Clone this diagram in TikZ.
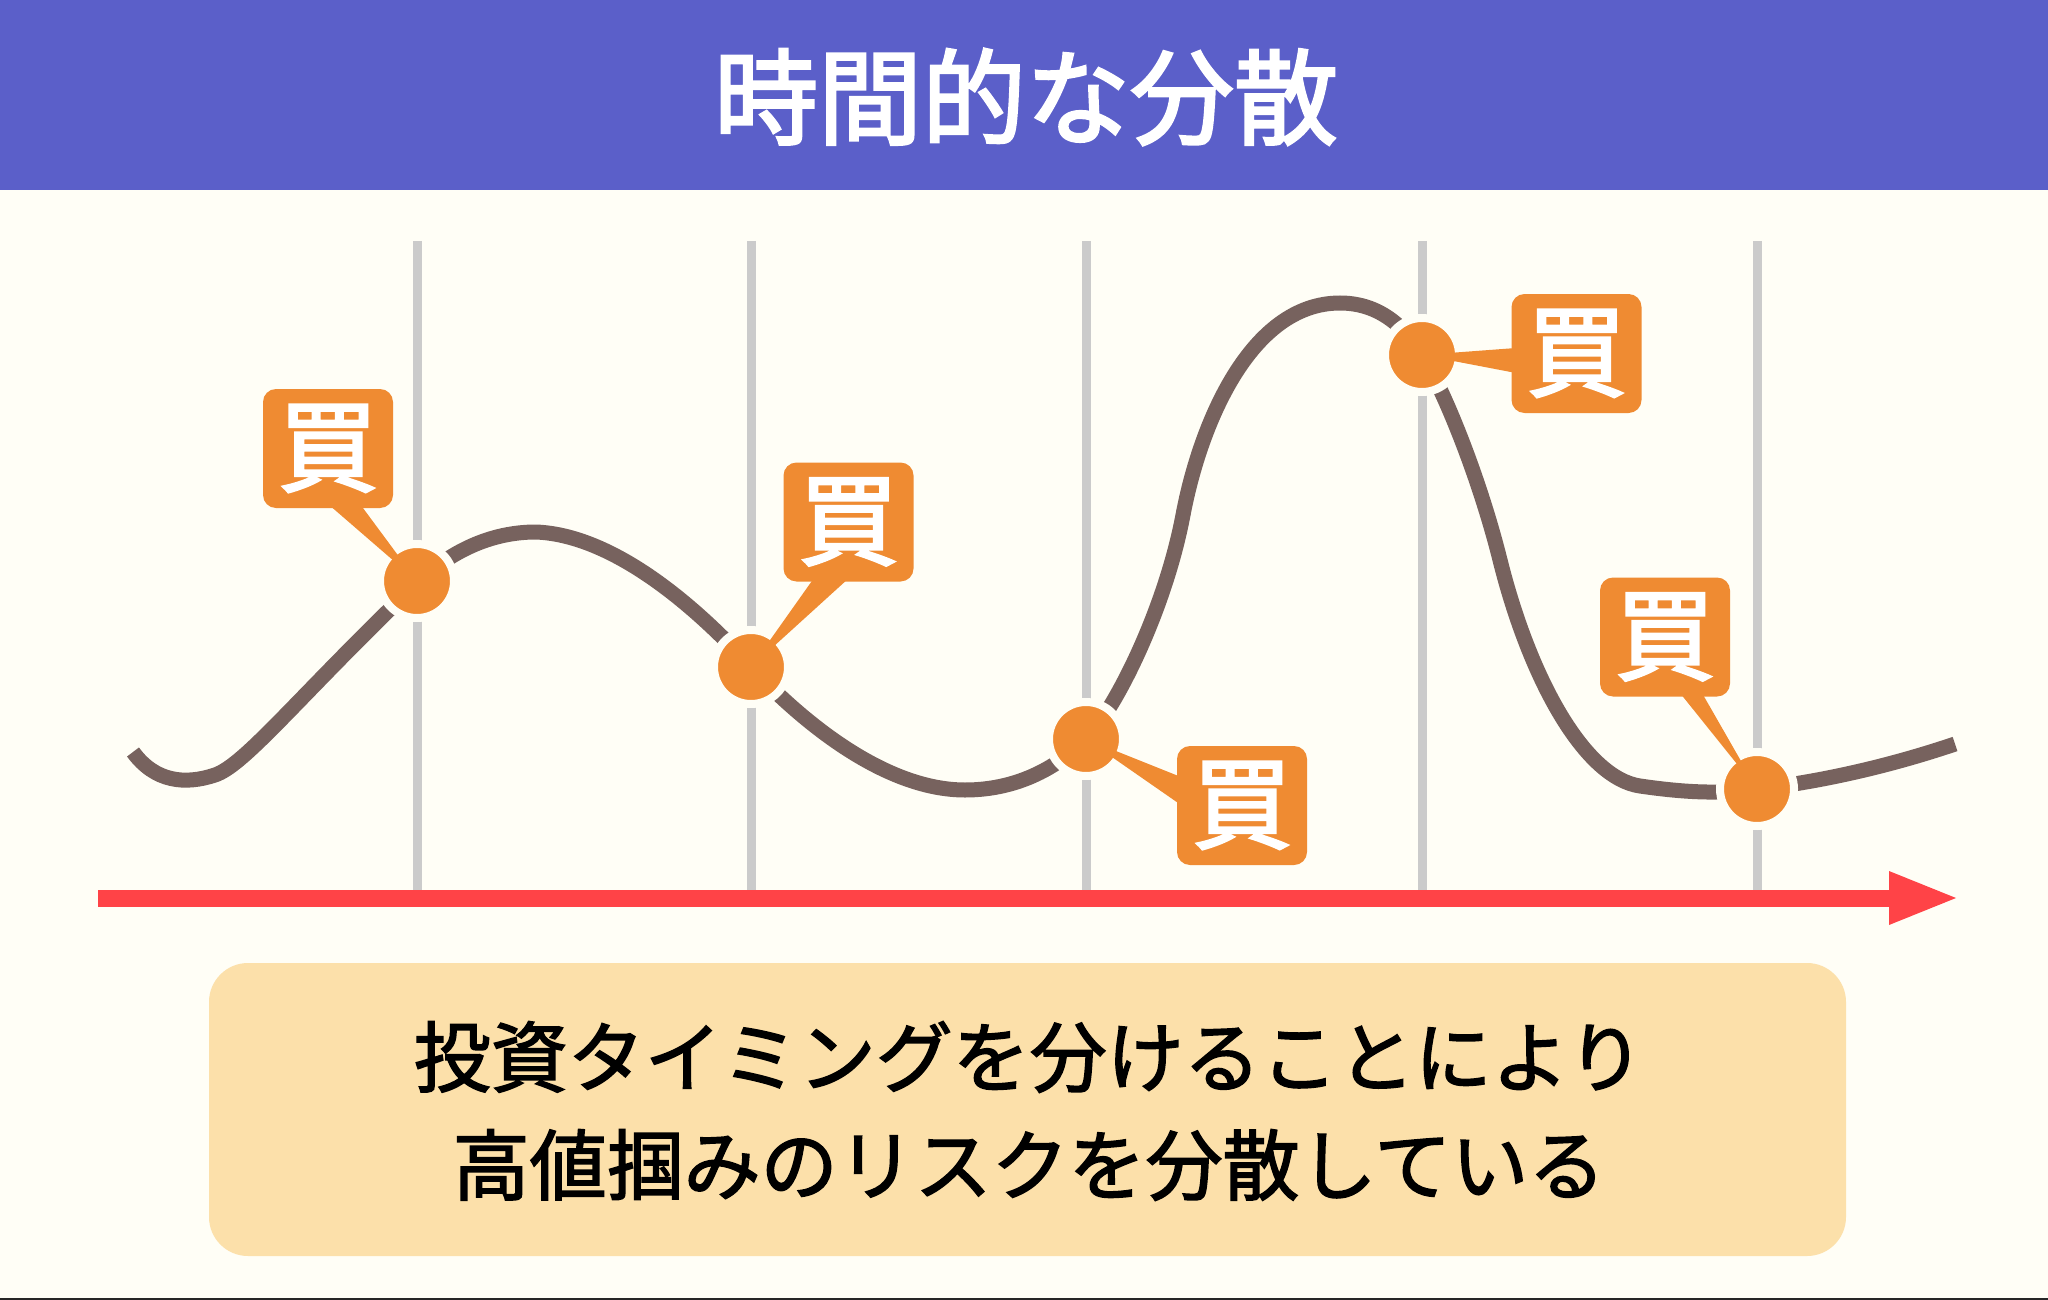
\documentclass[tikz,border=0pt]{standalone}
\usepackage{fontspec}
\newfontfamily\jp{Noto Sans CJK JP}[FakeBold=2]
\newfontfamily\jpt{Noto Sans CJK JP}[FakeBold=2.5]
\usetikzlibrary{calc}
\definecolor{bg}{HTML}{FFFEF6}
\definecolor{hdr}{HTML}{5B5FC9}
\definecolor{org}{HTML}{EF8B32}
\definecolor{brn}{HTML}{77625E}
\definecolor{grd}{HTML}{CBCBCB}
\definecolor{axr}{HTML}{FF4347}
\definecolor{panelc}{HTML}{FCE0AA}
\begin{document}
\begin{tikzpicture}[x=1pt,y=-1pt,
  dot/.style={circle, minimum size=74pt, inner sep=0pt, fill=org, draw=bg, line width=8pt},
  bubble/.style={rounded corners=13pt, minimum width=130pt, minimum height=119pt, inner sep=0pt, fill=org, text=white, font=\jpt\fontsize{100}{100}\selectfont},
  gridline/.style={grd, line width=9pt},
  tail/.style={fill=org},
  curve/.style={brn, line width=15pt}]
\useasboundingbox (0,0) rectangle (2048,1300);
\fill[bg] (0,0) rectangle (2048,1300);
\fill[hdr] (0,0) rectangle (2048,190);
\fill[black!85] (0,1298) rectangle (2048,1300);
\node[font=\jpt\fontsize{104}{104}\selectfont, text=white] (title) at (1026,97) {時間的な分散};
% grid
\foreach \x in {417,751,1086,1422,1757} \draw[gridline] (\x,241) -- (\x,898);
% axis
\coordinate (a0) at (98,898);
\coordinate (a1) at (1890,898);
\coordinate (atip) at (1956,898);
\draw[axr, line width=17pt] (a0) -- (a1);
\fill[axr] ($(a1)+(-1,-27)$) -- (atip) -- ($(a1)+(-1,27)$) -- cycle;
% curve
\draw[curve] (133,752) .. controls (155,782) and (185,785) .. (215,775)
  .. controls (245,765) and (300,695) .. (417,583)
  .. controls (450,552) and (490,532) .. (536,532)
  .. controls (610,535) and (690,600) .. (751,667)
  .. controls (810,730) and (890,790) .. (965,790)
  .. controls (1020,790) and (1060,765) .. (1086,739)
  .. controls (1115,710) and (1165,610) .. (1183,515)
  .. controls (1200,425) and (1250,303) .. (1340,303)
  .. controls (1375,303) and (1402,322) .. (1422,355)
  .. controls (1445,392) and (1480,480) .. (1500,560)
  .. controls (1530,680) and (1585,778) .. (1640,786)
  .. controls (1695,794) and (1725,793) .. (1757,789)
  .. controls (1820,782) and (1890,766) .. (1955,744);
% dots
\node[dot] (d1) at (417,581) {};
\node[dot] (d2) at (751,667) {};
\node[dot] (d3) at (1086,739) {};
\node[dot] (d4) at (1422,355) {};
\node[dot] (d5) at (1757,789) {};
% bubble centres
\path (328,448.5) coordinate (c1) (848.5,522) coordinate (c2) (1242,805.5) coordinate (c3)
      (1576.5,353.5) coordinate (c4) (1665,637) coordinate (c5);
% tails
\fill[tail] ($(c1)+(0,55.5)$) -- ($(c1)+(32,55.5)$) -- (d1.center) -- cycle;
\fill[tail] ($(c2)+(-34.5,56)$) -- ($(c2)+(0.5,56)$) -- (d2.center) -- cycle;
\fill[tail] ($(c3)+(-61,-28.5)$) -- ($(c3)+(-61,-0.5)$) -- (d3.center) -- cycle;
\fill[tail] ($(c4)+(-60.5,-5.5)$) -- ($(c4)+(-60.5,19.5)$) -- (d4.center) -- cycle;
\fill[tail] ($(c5)+(15,56)$) -- ($(c5)+(37,56)$) -- (d5.center) -- cycle;
% bubbles
\node[bubble] (b1) at (c1) {買};
\node[bubble] (b2) at (c2) {買};
\node[bubble] (b3) at (c3) {買};
\node[bubble] (b4) at (c4) {買};
\node[bubble] (b5) at (c5) {買};
% panel
\node[fill=panelc, rounded corners=39pt, minimum width=1637pt, minimum height=293pt, inner sep=0pt] (panel) at (1027.5,1109.5) {};
\node[font=\jp\fontsize{77}{108}\selectfont, align=center, text=black] (msg) at (1029,1111) {投資タイミングを分けることにより\\高値掴みのリスクを分散している};
\end{tikzpicture}
\end{document}
